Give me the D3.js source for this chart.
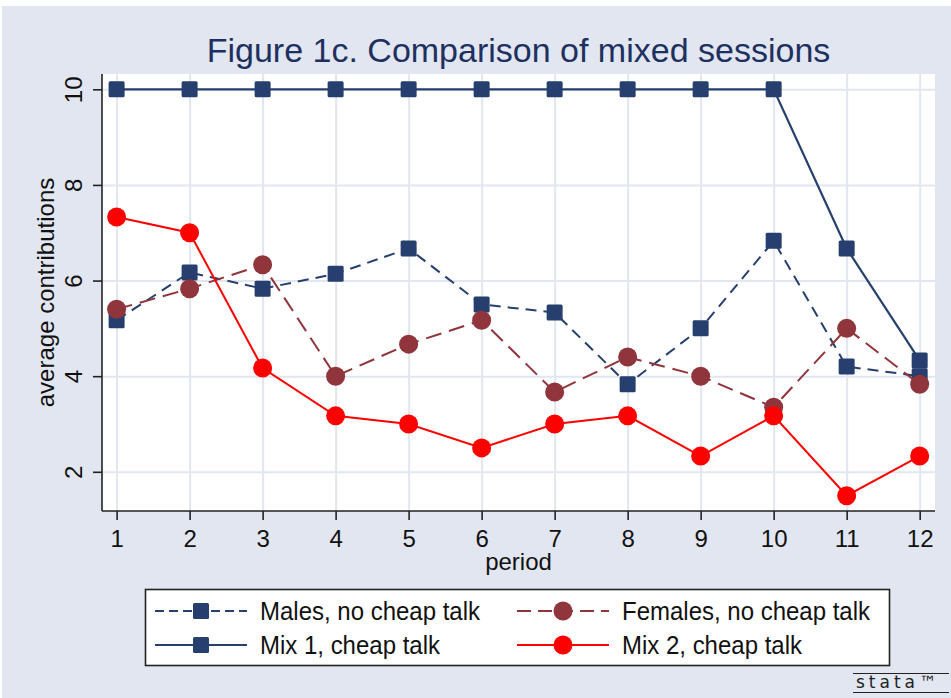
<!DOCTYPE html>
<html>
<head>
<meta charset="utf-8">
<script src="https://cdn.jsdelivr.net/npm/d3@7"></script>
<style>
    body { margin: 0; background: #ffffff; }
    text { font-family: 'Liberation Sans', Arial, sans-serif; }
</style>
</head>
<body>
<div id="graph"></div>
<script>

// chart values
var periods       = [1, 2, 3, 4, 5, 6, 7, 8, 9, 10, 11, 12];
var malesNoTalk   = [5.17, 6.17, 5.83, 6.14, 6.67, 5.5, 5.33, 3.83, 5.0, 6.83, 4.2, 4.0];
var femalesNoTalk = [5.4, 5.83, 6.33, 4.0, 4.67, 5.17, 3.67, 4.4, 4.0, 3.35, 5.0, 3.83];
var mix1Talk      = [10, 10, 10, 10, 10, 10, 10, 10, 10, 10, 6.67, 4.33];
var mix2Talk      = [7.33, 7.0, 4.17, 3.17, 3.0, 2.5, 3.0, 3.17, 2.33, 3.17, 1.5, 2.33];
var yTicks        = [2, 4, 6, 8, 10];
var seriesNames   = ['Males, no cheap talk', 'Females, no cheap talk', 'Mix 1, cheap talk', 'Mix 2, cheap talk'];

function D3App ()
{
    var W = 951, H = 698;
    var plot = { left: 102, top: 74, right: 935, bottom: 511 };

    var navy   = '#263f6e';
    var maroon = '#8f353b';
    var red    = '#ff0000';
    var bg     = '#e1e6f0';
    var gridC  = '#e1e6f0';

    var svg = d3.select ('#graph')
                .append ('svg')
                .attr ('width', W)
                .attr ('height', H);

    // outer background
    svg.append ('rect')
       .attr ('x', 2).attr ('y', 6)
       .attr ('width', W - 2).attr ('height', H - 6)
       .attr ('fill', bg);

    svg.append ('rect')
       .attr ('x', plot.left).attr ('y', plot.top)
       .attr ('width', plot.right - plot.left)
       .attr ('height', plot.bottom - plot.top)
       .attr ('fill', '#ffffff');

    var xScale = d3.scaleLinear ()
                   .domain ( [ 0.8, 12.21 ] )
                   .range ( [ plot.left, plot.right ] );

    var yScale = d3.scaleLinear ()
                   .domain ( [ 1.18, 10.32 ] )
                   .range ( [ plot.bottom, plot.top ] );

    // grid, drawn with long ticks
    var xGrid = d3.axisBottom (xScale)
                  .tickValues (periods)
                  .tickSize (-(plot.bottom - plot.top))
                  .tickFormat ('');

    var yGrid = d3.axisLeft (yScale)
                  .tickValues (yTicks)
                  .tickSize (-(plot.right - plot.left))
                  .tickFormat ('');

    var gx = svg.append ('g')
                .attr ('transform', 'translate(0,' + plot.bottom + ')')
                .call (xGrid);
    var gy = svg.append ('g')
                .attr ('transform', 'translate(' + plot.left + ',0)')
                .call (yGrid);
    [gx, gy].forEach (function (g) {
        g.select ('.domain').remove ();
        g.selectAll ('line').attr ('stroke', gridC).attr ('stroke-width', 2);
    });

    // axes
    var xAxis = d3.axisBottom (xScale)
                  .tickValues (periods)
                  .tickSize (9)
                  .tickSizeOuter (0)
                  .tickFormat (d3.format ('d'));

    var yAxis = d3.axisLeft (yScale)
                  .tickValues (yTicks)
                  .tickSize (9)
                  .tickSizeOuter (0)
                  .tickFormat (d3.format ('d'));

    var ax = svg.append ('g')
                .attr ('transform', 'translate(0,' + plot.bottom + ')')
                .call (xAxis);
    ax.select ('.domain').attr ('d', 'M' + plot.left + ',0H' + plot.right);
    ax.selectAll ('text')
      .attr ('y', 36).attr ('dy', null)
      .attr ('fill', '#111')
      .style ('font-size', '24px');

    var ay = svg.append ('g')
                .attr ('transform', 'translate(' + plot.left + ',0)')
                .call (yAxis);
    ay.select ('.domain').attr ('d', 'M0,' + plot.top + 'V' + plot.bottom);
    ay.selectAll ('text')
      .attr ('x', null).attr ('dy', null)
      .attr ('text-anchor', 'middle')
      .attr ('transform', 'translate(-20,0) rotate(-90)')
      .attr ('fill', '#111')
      .style ('font-size', '24px');

    [ax, ay].forEach (function (g) {
        g.selectAll ('.domain, line').attr ('stroke', '#222').attr ('stroke-width', 1.6);
    });

    // titles
    svg.append ('text')
       .attr ('x', (plot.left + plot.right) / 2)
       .attr ('y', 62)
       .attr ('text-anchor', 'middle')
       .attr ('fill', '#1e3060')
       .style ('font-size', '34px')
       .text ('Figure 1c. Comparison of mixed sessions');

    svg.append ('text')
       .attr ('x', (plot.left + plot.right) / 2)
       .attr ('y', 570)
       .attr ('text-anchor', 'middle')
       .attr ('fill', '#111')
       .style ('font-size', '24px')
       .text ('period');

    svg.append ('text')
       .attr ('transform', 'translate(54,' + (plot.top + plot.bottom) / 2 + ') rotate(-90)')
       .attr ('text-anchor', 'middle')
       .attr ('fill', '#111')
       .style ('font-size', '24px')
       .text ('average contributions');

    // series, in drawing order
    var series = [
        { name: seriesNames[0], values: malesNoTalk,   color: navy,   dash: '11,7', symbol: 'square', width: 2 },
        { name: seriesNames[2], values: mix1Talk,      color: navy,   dash: null,   symbol: 'square', width: 2.2 },
        { name: seriesNames[1], values: femalesNoTalk, color: maroon, dash: '16,8', symbol: 'circle', width: 2 },
        { name: seriesNames[3], values: mix2Talk,      color: red,    dash: null,   symbol: 'circle', width: 2 }
    ];

    var line = d3.line ()
                 .x (function (d, i) { return xScale (periods[i]); })
                 .y (function (d) { return yScale (d); });

    function drawMarker (g, sym, color, cx, cy)
    {
        if (sym === 'square')
            g.append ('rect')
             .attr ('x', cx - 8).attr ('y', cy - 8)
             .attr ('width', 16).attr ('height', 16)
             .attr ('rx', 1.5)
             .attr ('fill', color);
        else
            g.append ('circle')
             .attr ('cx', cx).attr ('cy', cy)
             .attr ('r', 9.5)
             .attr ('fill', color);
    }

    series.forEach (function (s) {
        var g = svg.append ('g');
        g.append ('path')
         .datum (s.values)
         .attr ('d', line)
         .attr ('fill', 'none')
         .attr ('stroke', s.color)
         .attr ('stroke-width', s.width)
         .attr ('stroke-dasharray', s.dash);
        s.values.forEach (function (v, i) {
            drawMarker (g, s.symbol, s.color, xScale (periods[i]), yScale (v));
        });
    });

    // legend
    var legend = svg.append ('g');
    legend.append ('rect')
          .attr ('x', 145.5).attr ('y', 589.5)
          .attr ('width', 744).attr ('height', 76)
          .attr ('fill', '#ffffff')
          .attr ('stroke', '#222')
          .attr ('stroke-width', 1.6);

    var legendItems = [
        { s: series[0], col: 0, row: 0 },
        { s: series[2], col: 1, row: 0 },
        { s: series[1], col: 0, row: 1 },
        { s: series[3], col: 1, row: 1 }
    ];
    var colX = [155, 517], rowY = [611, 645];

    legendItems.forEach (function (it) {
        var x0 = colX[it.col], y0 = rowY[it.row];
        var k = legend.append ('g');
        k.append ('line')
         .attr ('x1', x0).attr ('x2', x0 + 92)
         .attr ('y1', y0).attr ('y2', y0)
         .attr ('stroke', it.s.color)
         .attr ('stroke-width', it.s.width)
         .attr ('stroke-dasharray', it.s.dash ? (it.s.symbol === 'square' ? '9,5' : '14,7') : null);
        drawMarker (k, it.s.symbol, it.s.color, x0 + 46, y0);
        k.append ('text')
         .attr ('transform', 'translate(' + (x0 + 105) + ',' + (y0 + 9) + ') scale(1,1.04)')
         .attr ('fill', '#111')
         .style ('font-size', '24px')
         .text (it.s.name);
    });

    // stata mark
    var logo = svg.append ('g');
    logo.append ('line').attr ('x1', 853).attr ('x2', 949).attr ('y1', 673.5).attr ('y2', 673.5)
        .attr ('stroke', '#222').attr ('stroke-width', 1.2);
    logo.append ('line').attr ('x1', 853).attr ('x2', 949).attr ('y1', 692.5).attr ('y2', 692.5)
        .attr ('stroke', '#222').attr ('stroke-width', 1.2);
    logo.append ('text')
        .attr ('x', 856).attr ('y', 688)
        .attr ('fill', '#222')
        .style ('font-family', 'DejaVu Sans')
        .style ('font-size', '17px')
        .style ('letter-spacing', '4px')
        .text ('stata\u2122');
}

D3App ();
</script>
</body>
</html>
